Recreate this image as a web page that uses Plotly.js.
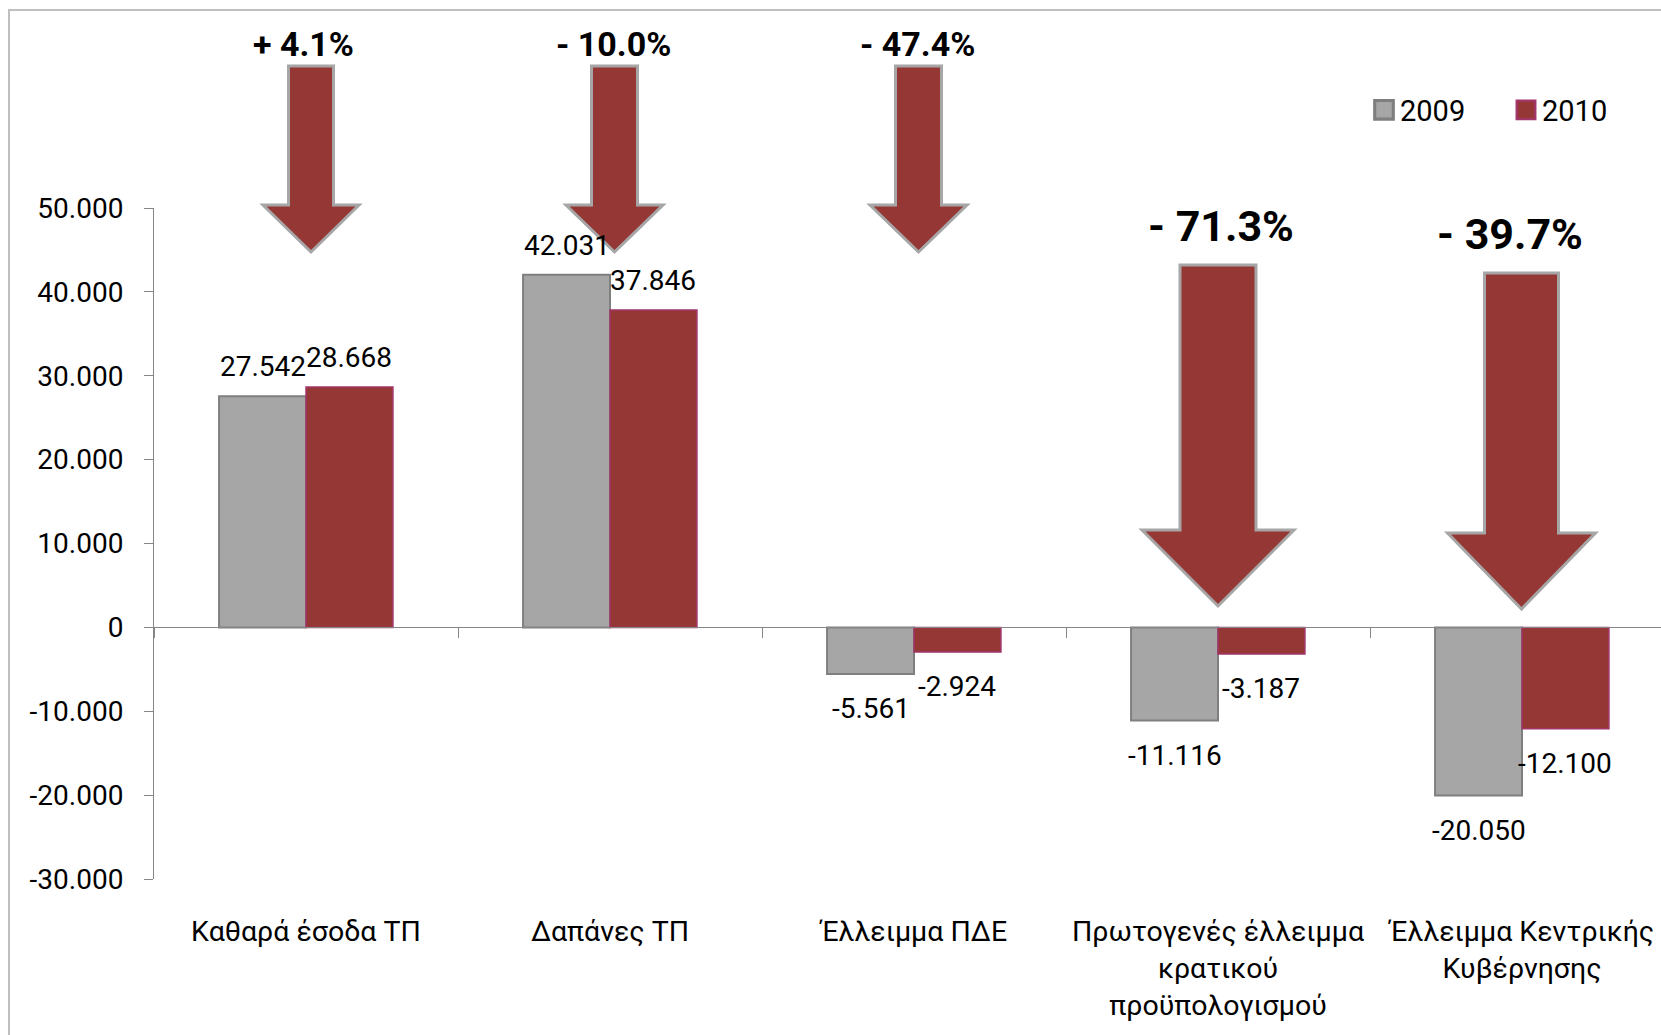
<!DOCTYPE html>
<html><head><meta charset="utf-8">
<script src="https://cdn.plot.ly/plotly-3.0.1.min.js"></script>
<style>html,body{margin:0;padding:0;background:#fff;}#chart{width:1661px;height:1035px;}</style>
</head><body><div id="chart"></div>
<script>
// ---- data ----
const categories = ['Καθαρά έσοδα ΤΠ', 'Δαπάνες ΤΠ', 'Έλλειμμα ΠΔΕ', 'Πρωτογενές έλλειμμα κρατικού προϋπολογισμού', 'Έλλειμμα Κεντρικής Κυβέρνησης'];
const categoryTickLabels = ['Καθαρά έσοδα ΤΠ', 'Δαπάνες ΤΠ', 'Έλλειμμα ΠΔΕ', 'Πρωτογενές έλλειμμα<br>κρατικού<br>προϋπολογισμού', 'Έλλειμμα Κεντρικής<br>Κυβέρνησης'];
const seriesNames = ['2009', '2010'];
const values2009 = [27542, 42031, -5561, -11116, -20050];
const values2010 = [28668, 37846, -2924, -3187, -12100];
const changeLabels = ['+ 4.1%', '- 10.0%', '- 47.4%', '- 71.3%', '- 39.7%'];
const yTickVals = [-30000, -20000, -10000, 0, 10000, 20000, 30000, 40000, 50000];
const yTickText = ['-30.000', '-20.000', '-10.000', '0', '10.000', '20.000', '30.000', '40.000', '50.000'];

// ---- layout helpers ----
const FONT = 'Roboto, "Noto Sans", sans-serif';
const W = 1661, H = 1035;
const M = {l: 154, r: 0, t: 208, b: 156};
const plotW = W - M.l - M.r, plotH = H - M.t - M.b;
const catPx = 304;
const xRange = [-0.5, -0.5 + plotW / catPx];
const yRange = [-30000, 50000];
const BARGAP = 0.428;
const pyToPaper = py => (M.t + plotH - py) / plotH;
const pxToPaper = px => (px - M.l) / plotW;
const zeroPaper = (0 - yRange[0]) / (yRange[1] - yRange[0]);

function fmt(v) {
  const s = Math.abs(v).toString().replace(/\B(?=(\d{3})+(?!\d))/g, '.');
  return (v < 0 ? '-' : '') + s;
}

const RED = '#953735';
const traces = [
  {type: 'bar', name: seriesNames[0], x: categories, y: values2009,
   marker: {color: '#A6A6A6', line: {color: '#7F7F7F', width: 2}}, hoverinfo: 'x+y'},
  {type: 'bar', name: seriesNames[1], x: categories, y: values2010,
   marker: {color: RED, line: {color: '#A2356A', width: 1.5}}, hoverinfo: 'x+y'}
];

// data labels
const annotations = [];
const barOff = (1 - BARGAP) / 4;
[values2009, values2010].forEach((vals, s) => {
  vals.forEach((v, i) => {
    annotations.push({
      xref: 'x', yref: 'y', x: i + (s === 0 ? -barOff : barOff), y: v,
      text: fmt(v), showarrow: false, xanchor: 'center',
      yanchor: v >= 0 ? 'bottom' : 'top', yshift: v >= 0 ? 11 : -16,
      font: {family: FONT, size: 28, color: '#000'}
    });
  });
});

// arrow decorations (pixel geometry)
const arrowGeom = [
  {tip: 252, len: 186, sw: 22.5, hw: 48, hl: 47, dx: 5},
  {tip: 252, len: 186, sw: 23, hw: 48.5, hl: 47, dx: 4.5},
  {tip: 252, len: 186, sw: 23, hw: 48.5, hl: 47, dx: 4.5},
  {tip: 606, len: 341, sw: 38, hw: 76, hl: 76, dx: 0},
  {tip: 609, len: 336, sw: 37, hw: 74, hl: 76, dx: -0.5}
];
const pctGeom = [
  {cy: 44, size: 34, dx: -3}, {cy: 44, size: 34, dx: 3}, {cy: 44, size: 34, dx: 3},
  {cy: 226, size: 43, dx: 3}, {cy: 234.5, size: 43, dx: -12}
];

const shapes = [];
// outer chart-area frame
shapes.push({type: 'path', xref: 'paper', yref: 'paper',
  path: `M${pxToPaper(9)},${pyToPaper(1100)} L${pxToPaper(9)},${pyToPaper(10)} L${pxToPaper(1720)},${pyToPaper(10)}`,
  line: {color: '#BFBFBF', width: 2}, layer: 'below'});

arrowGeom.forEach((g, i) => {
  const d = g.dx;
  const p = `M${d},0 L${d - g.hw},${g.hl} L${d - g.sw},${g.hl} L${d - g.sw},${g.len} L${d + g.sw},${g.len} L${d + g.sw},${g.hl} L${d + g.hw},${g.hl} Z`;
  shapes.push({type: 'path', xref: 'x', xsizemode: 'pixel', xanchor: i,
    yref: 'paper', ysizemode: 'pixel', yanchor: pyToPaper(g.tip),
    path: p, fillcolor: RED, line: {color: '#A6A6A6', width: 3}, layer: 'above'});
});

changeLabels.forEach((t, i) => {
  const g = pctGeom[i];
  annotations.push({xref: 'x', yref: 'paper', x: i, y: pyToPaper(g.cy), xshift: g.dx,
    text: t, showarrow: false, xanchor: 'center', yanchor: 'middle',
    font: {family: FONT, size: g.size, color: '#000', weight: 700}});
});

const layout = {
  width: W, height: H,
  margin: M,
  paper_bgcolor: '#fff', plot_bgcolor: 'rgba(0,0,0,0)',
  barmode: 'group', bargap: BARGAP, bargroupgap: 0,
  showlegend: true,
  legend: {orientation: 'h', x: pxToPaper(1360), xanchor: 'left', y: pyToPaper(110), yanchor: 'middle',
    font: {family: FONT, size: 29, color: '#000'}, bgcolor: 'rgba(0,0,0,0)', traceorder: 'normal',
    entrywidth: 97, entrywidthmode: 'pixels'},
  xaxis: {type: 'category', range: xRange, anchor: 'free', position: zeroPaper,
    showline: true, linecolor: '#868686', linewidth: 1,
    ticks: 'outside', tickson: 'boundaries', ticklen: 10, tickcolor: '#868686', tickwidth: 1,
    showgrid: false, zeroline: false, tickangle: 0,
    tickmode: 'array', tickvals: categories, ticktext: categoryTickLabels,
    ticklabelstandoff: 278, tickfont: {family: FONT, size: 28.5, color: '#000'}, fixedrange: true},
  yaxis: {range: yRange, tickmode: 'array', tickvals: yTickVals, ticktext: yTickText,
    showline: true, linecolor: '#868686', linewidth: 1,
    ticks: 'outside', ticklen: 9, tickcolor: '#868686', tickwidth: 1,
    showgrid: false, zeroline: false, ticklabelstandoff: 15,
    tickfont: {family: FONT, size: 28, color: '#000'}, fixedrange: true},
  shapes: shapes,
  annotations: annotations,
  font: {family: FONT, color: '#000'}
};

Plotly.newPlot('chart', traces, layout, {displayModeBar: false, staticPlot: true}).then(gd => {
  // enlarge the legend swatches to match the reference's bigger squares
  gd.querySelectorAll('.legendpoints path').forEach(p => {
    const t = p.getAttribute('transform') || '';
    p.setAttribute('transform', (t + ' translate(4,0) scale(1.55)').trim());
  });
});
</script>
</body></html>
